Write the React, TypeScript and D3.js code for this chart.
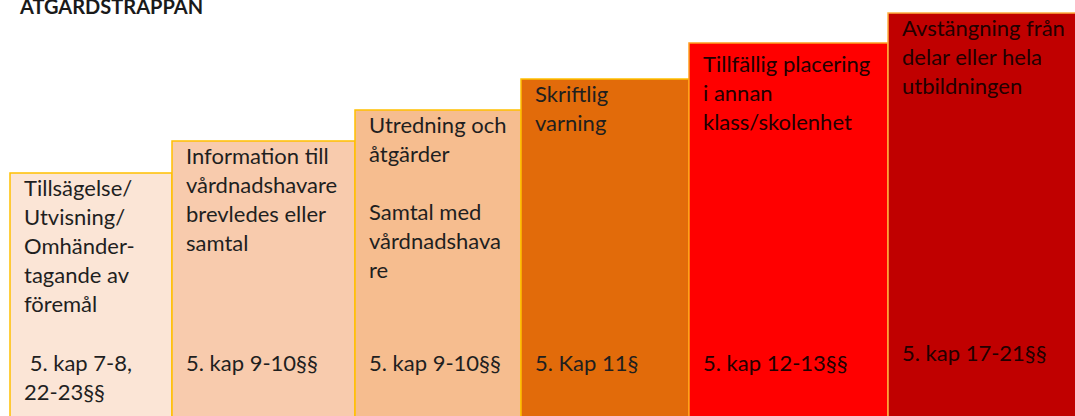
import React, { useEffect, useRef } from 'react';
import * as d3 from 'd3';

// Steps of the ladder, left to right
const stepTitles: string[][] = [
  ['Tillsägelse/', 'Utvisning/', 'Omhänder-', 'tagande av', 'föremål'],
  ['Information till', 'vårdnadshavare', 'brevledes eller', 'samtal'],
  ['Utredning och', 'åtgärder', '', 'Samtal med', 'vårdnadshava', 're'],
  ['Skriftlig', 'varning'],
  ['Tillfällig placering', 'i annan', 'klass/skolenhet'],
  ['Avstängning från', 'delar eller hela', 'utbildningen'],
];
const lawRefs: string[][] = [
  [' 5. kap 7-8,', '22-23§§'],
  ['5. kap 9-10§§'],
  ['5. kap 9-10§§'],
  ['5. Kap 11§'],
  ['5. kap 12-13§§'],
  ['5. kap 17-21§§'],
];
// step height (units) and step width (units)
const stepHeight = [243, 275, 306, 337, 373, 403];
const stepWidth = [162, 183, 166, 168, 199, 190];
const fills = ['#fbe5d6', '#f8cbad', '#f6bd8f', '#e26b0a', '#ff0000', '#c00000'];
const borders = ['#ffc000', '#ffc000', '#ffc000', '#ffc000', '#ffa020', '#ffb040'];

const title = 'ÅTGÄRDSTRAPPAN';

function App() {
  const svgRef = useRef<SVGSVGElement>(null);

  useEffect(() => {
    const width = 1075;
    const height = 416;
    const svg = d3.select(svgRef.current).attr('width', width).attr('height', height);
    svg.selectAll('*').remove();

    const edges = [0, ...d3.cumsum(stepWidth)];
    const x = d3.scaleLinear().domain([0, d3.sum(stepWidth)]).range([10, 10 + d3.sum(stepWidth)]);
    const y = d3.scaleLinear().domain([0, 403]).range([416, 13]);

    const font = 'Lato, "Open Sans", sans-serif';

    svg.append('text')
      .attr('x', 20)
      .attr('y', 14)
      .style('font-family', font)
      .style('font-weight', 'bold')
      .style('font-size', '20px')
      .attr('fill', '#1a1a1a')
      .text(title);

    const steps = svg.selectAll('.step')
      .data(stepHeight)
      .enter().append('g')
      .attr('class', 'step');

    steps.append('rect')
      .attr('x', (d, i) => x(edges[i]))
      .attr('y', (d) => y(d))
      .attr('width', (d, i) => x(edges[i + 1]) - x(edges[i]))
      .attr('height', (d) => y(0) - y(d) + 4)
      .attr('fill', (d, i) => fills[i])
      .attr('stroke', (d, i) => borders[i])
      .attr('stroke-width', 1.5);

    steps.each(function (d, i) {
      const g = d3.select(this);
      const tx = x(edges[i]) + 14;
      const textColor = i >= 4 ? '#220000' : '#1f1f1f';
      const first = y(d) + 23 + (i === 4 ? 6 : 0);
      g.selectAll('.line')
        .data(stepTitles[i])
        .enter().append('text')
        .attr('class', 'line')
        .attr('x', tx)
        .attr('y', (_, j) => first + j * 29)
        .attr('fill', textColor)
        .style('font-family', font)
        .style('font-size', '22px')
        .style('white-space', 'pre')
        .text((t) => t);
      const lawY = i === 5 ? 361 : 371;
      g.selectAll('.law')
        .data(lawRefs[i])
        .enter().append('text')
        .attr('class', 'law')
        .attr('x', tx)
        .attr('y', (_, j) => lawY + j * 29)
        .attr('fill', textColor)
        .style('font-family', font)
        .style('font-size', '22px')
        .style('white-space', 'pre')
        .text((t) => t);
    });
  }, []);

  return (
    <svg ref={svgRef} style={{ position: 'absolute', left: 0, top: 0 }}></svg>
  );
}

export default App;
